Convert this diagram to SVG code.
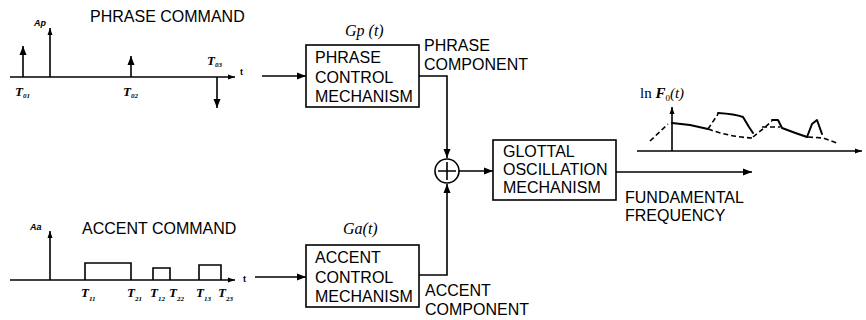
<svg xmlns="http://www.w3.org/2000/svg" width="866" height="320" viewBox="0 0 866 320">
<style>
.ln{stroke:#000;stroke-width:1.6;fill:none}
.cv{stroke:#000;stroke-width:2;fill:none;stroke-linecap:round;stroke-linejoin:round}
.ds{stroke:#000;stroke-width:1.6;fill:none;stroke-dasharray:5 3}
.box{stroke:#000;stroke-width:1.6;fill:#fff}
.t{font-family:"Liberation Sans",Arial,sans-serif;font-size:16px;fill:#000}
.it{font-family:"Liberation Serif","Times New Roman",serif;font-style:italic;fill:#000}
.tl{font-family:"Liberation Serif","Times New Roman",serif;font-style:italic;font-weight:bold;font-size:13px;fill:#000}
.sm{font-family:"Liberation Sans",Arial,sans-serif;font-size:9px;font-weight:bold;fill:#000}
</style>
<defs>
<marker id="ah" markerUnits="userSpaceOnUse" markerWidth="10" markerHeight="8" refX="9" refY="4" orient="auto">
<path d="M0,0.5 L9,4 L0,7.5 Z" fill="#000"/>
</marker>
<marker id="ahs" markerUnits="userSpaceOnUse" markerWidth="8" markerHeight="6" refX="7" refY="3" orient="auto">
<path d="M0,0.5 L7,3 L0,5.5 Z" fill="#000"/>
</marker>
</defs>

<g id="phrase-command">
<text class="t" x="90" y="22">PHRASE COMMAND</text>
<line class="ln" x1="10" y1="77" x2="235" y2="77" marker-end="url(#ahs)"/>
<line class="ln" x1="23" y1="77" x2="23" y2="46" marker-end="url(#ah)"/>
<line class="ln" x1="50" y1="77" x2="50" y2="28" marker-end="url(#ahs)"/>
<line class="ln" x1="131" y1="77" x2="131" y2="56" marker-end="url(#ah)"/>
<line class="ln" x1="217" y1="77" x2="217" y2="108" marker-end="url(#ah)"/>
<text class="sm" x="34" y="26" font-style="italic">Ap</text>
<text class="sm" x="240" y="75">t</text>
<text class="tl" x="15" y="96">T<tspan font-size="7" dy="2">01</tspan></text>
<text class="tl" x="123" y="96">T<tspan font-size="7" dy="2">02</tspan></text>
<text class="tl" x="207" y="65">T<tspan font-size="7" dy="2">03</tspan></text>
</g>

<g id="accent-command">
<text class="t" x="82" y="234">ACCENT COMMAND</text>
<line class="ln" x1="10" y1="280" x2="235" y2="280" marker-end="url(#ahs)"/>
<line class="ln" x1="50" y1="280" x2="50" y2="231" marker-end="url(#ahs)"/>
<path class="ln" d="M85,280 V263 H131 V280 M153,280 V268 H170 V280 M199,280 V265 H221 V280"/>
<text class="sm" x="30" y="230" font-style="italic">Aa</text>
<text class="sm" x="243" y="282">t</text>
<text class="tl" x="81" y="297">T<tspan font-size="7" dy="4">11</tspan></text>
<text class="tl" x="127" y="297">T<tspan font-size="7" dy="4">21</tspan></text>
<text class="tl" x="150" y="297">T<tspan font-size="7" dy="4">12</tspan></text>
<text class="tl" x="169" y="297">T<tspan font-size="7" dy="4">22</tspan></text>
<text class="tl" x="196" y="297">T<tspan font-size="7" dy="4">13</tspan></text>
<text class="tl" x="218" y="297">T<tspan font-size="7" dy="4">23</tspan></text>
</g>

<g id="phrase-control">
<text class="it" x="345" y="36" font-size="16">Gp (t)</text>
<rect class="box" x="306" y="45" width="113" height="62"/>
<text class="t" x="315" y="63">PHRASE</text>
<text class="t" x="315" y="83">CONTROL</text>
<text class="t" x="315" y="102">MECHANISM</text>
</g>

<g id="accent-control">
<text class="it" x="343" y="234" font-size="16">Ga(t)</text>
<rect class="box" x="306" y="245" width="113" height="62"/>
<text class="t" x="315" y="263">ACCENT</text>
<text class="t" x="315" y="283">CONTROL</text>
<text class="t" x="315" y="302">MECHANISM</text>
</g>

<g id="sum">
<circle class="ln" cx="447" cy="171" r="12" fill="#fff"/>
<path class="ln" d="M438,171 H456 M447,162 V180"/>
</g>

<g id="glottal">
<rect class="box" x="493" y="140" width="123" height="60"/>
<text class="t" x="503" y="157">GLOTTAL</text>
<text class="t" x="503" y="175">OSCILLATION</text>
<text class="t" x="503" y="193">MECHANISM</text>
</g>

<g id="labels">
<text class="t" x="424" y="51">PHRASE</text>
<text class="t" x="424" y="70">COMPONENT</text>
<text class="t" x="425" y="296">ACCENT</text>
<text class="t" x="425" y="315">COMPONENT</text>
<text class="t" x="625" y="203">FUNDAMENTAL</text>
<text class="t" x="625" y="221">FREQUENCY</text>
</g>

<g id="f0-plot">
<text font-family="Liberation Serif,'Times New Roman',serif" font-size="15" x="640" y="98" fill="#000">ln <tspan font-style="italic" font-weight="bold">F</tspan><tspan font-size="9" dy="3">0</tspan><tspan font-style="italic" dy="-3">(t)</tspan></text>
<line class="ln" x1="637" y1="151" x2="862" y2="151" marker-end="url(#ahs)"/>
<line class="ln" x1="672" y1="151" x2="672" y2="107" marker-end="url(#ahs)"/>
<path class="ds" d="M650,141 L668,124"/>
<path class="cv" d="M672,123 L690,125 L708,129"/>
<path class="ds" d="M708,129 L718,114"/>
<path class="cv" d="M718,113 Q735,114 743,117 L749,127 L753,133"/>
<path class="ds" d="M708,129 Q730,137 753,138"/>
<path class="ds" d="M753,137 L764,128 L772,121"/>
<path class="ds" d="M762,127 L780,127"/>
<path class="cv" d="M772,120 L778,120 L782,128 Q795,133 807,137"/>
<path class="cv" d="M807,137 L812,124 L817,120 L822,134"/>
<path class="ds" d="M808,137 L823,138 L837,143"/>
</g>

<g id="connectors">
<line class="ln" x1="262" y1="76" x2="306" y2="76" marker-end="url(#ah)"/>
<line class="ln" x1="255" y1="277" x2="306" y2="277" marker-end="url(#ah)"/>
<polyline class="ln" points="419,76 447,76 447,158" marker-end="url(#ah)"/>
<polyline class="ln" points="419,275 447,275 447,184" marker-end="url(#ah)"/>
<line class="ln" x1="459" y1="171" x2="493" y2="171" marker-end="url(#ah)"/>
<line class="ln" x1="616" y1="172" x2="752" y2="172" marker-end="url(#ah)"/>
</g>
</svg>
